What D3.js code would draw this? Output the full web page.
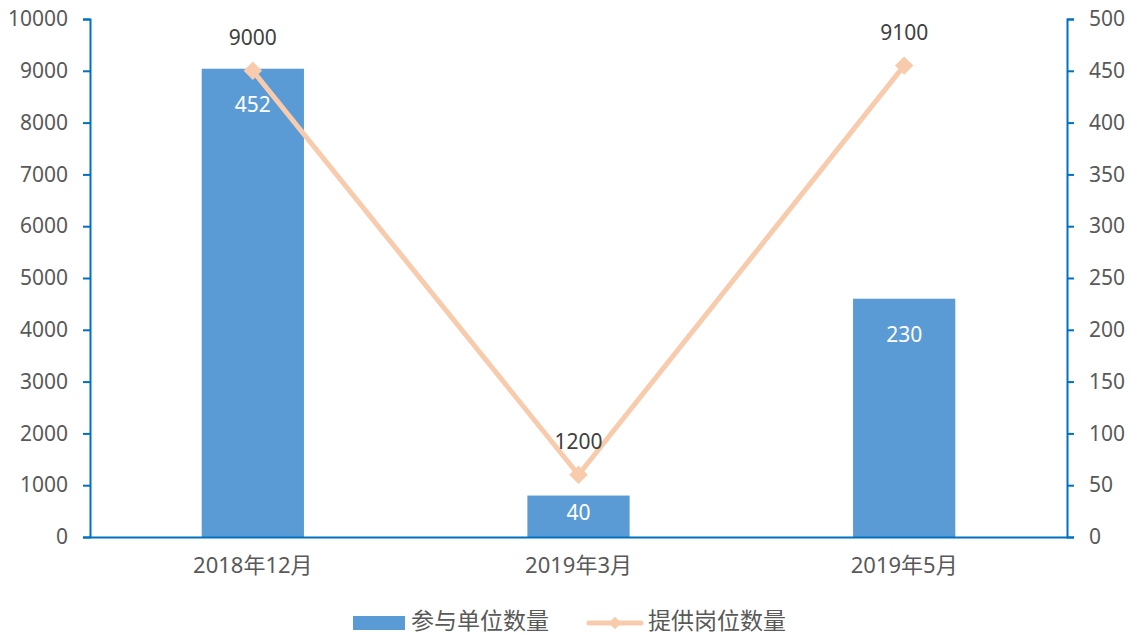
<!DOCTYPE html>
<html>
<head>
<meta charset="utf-8">
<script src="https://cdn.jsdelivr.net/npm/d3@7"></script>
<style>
  body { margin: 0; background: #fff; }
  svg { display: block; font-family: "Noto Sans", "Noto Sans CJK SC", sans-serif; }
</style>
</head>
<body>
<svg id="chart" width="1133" height="635"></svg>
<script>
const categories = ["2018年12月", "2019年3月", "2019年5月"];
const unitCounts = [452, 40, 230];        // 参与单位数量 (right axis)
const jobCounts = [9000, 1200, 9100];     // 提供岗位数量 (left axis)
const leftTicks = [0, 1000, 2000, 3000, 4000, 5000, 6000, 7000, 8000, 9000, 10000];
const rightTicks = [0, 50, 100, 150, 200, 250, 300, 350, 400, 450, 500];
const seriesNames = ["参与单位数量", "提供岗位数量"];

const svg = d3.select("#chart");
const plotLeft = 90, plotRight = 1067, plotTop = 19, plotBottom = 537;
const axisColor = "#0070C0", textColor = "#595959";
const barColor = "#5B9BD5", lineColor = "#F8CBAD";

const x = d3.scaleBand().domain(categories).range([plotLeft, plotRight]).paddingInner(0.686).paddingOuter(0.343);
const yL = d3.scaleLinear().domain([0, 10000]).range([plotBottom, plotTop]);
const yR = d3.scaleLinear().domain([0, 500]).range([plotBottom, plotTop]);

// Bars (right axis)
svg.append("g").selectAll("rect").data(unitCounts).join("rect")
  .attr("x", (d, i) => x(categories[i]))
  .attr("width", x.bandwidth())
  .attr("y", d => yR(d))
  .attr("height", d => plotBottom - yR(d))
  .attr("fill", barColor);

// Bar value labels, inside the top of each bar
svg.append("g").selectAll("text").data(unitCounts).join("text")
  .attr("x", (d, i) => x(categories[i]) + x.bandwidth() / 2)
  .attr("y", d => yR(d) + Math.min(36, (plotBottom - yR(d)) / 2 - 4))
  .attr("dy", "0.35em")
  .attr("text-anchor", "middle")
  .attr("font-size", 21)
  .attr("fill", "#fff")
  .text(d => d);

// Axes
function styleAxis(g) {
  g.attr("font-family", null);
  g.select(".domain").attr("stroke", axisColor).attr("stroke-width", 2);
  g.selectAll(".tick line").attr("stroke", axisColor).attr("stroke-width", 2);
  g.selectAll(".tick text").attr("fill", textColor).attr("font-size", 21);
}
svg.append("g").attr("transform", `translate(${plotLeft},0)`)
  .call(d3.axisLeft(yL).tickValues(leftTicks).tickSize(7).tickSizeOuter(7).tickPadding(15).tickFormat(d3.format("d")))
  .call(styleAxis);
svg.append("g").attr("transform", `translate(${plotRight},0)`)
  .call(d3.axisRight(yR).tickValues(rightTicks).tickSize(7).tickSizeOuter(7).tickPadding(15).tickFormat(d3.format("d")))
  .call(styleAxis);
svg.append("g").attr("transform", `translate(0,${plotBottom})`)
  .call(d3.axisBottom(x).tickSize(0).tickSizeOuter(0).tickPadding(20))
  .call(styleAxis)
  .call(g => g.selectAll(".tick text").attr("font-size", 22));

// Line (left axis)
const cx = c => x(c) + x.bandwidth() / 2;
svg.append("path")
  .datum(jobCounts)
  .attr("fill", "none")
  .attr("stroke", lineColor)
  .attr("stroke-width", 5)
  .attr("d", d3.line().x((d, i) => cx(categories[i])).y(d => yL(d)));

svg.append("g").selectAll("path").data(jobCounts).join("path")
  .attr("transform", (d, i) => `translate(${cx(categories[i])},${yL(d)}) rotate(45)`)
  .attr("d", d3.symbol(d3.symbolSquare, 170))
  .attr("fill", lineColor);

svg.append("g").selectAll("text").data(jobCounts).join("text")
  .attr("x", (d, i) => cx(categories[i]))
  .attr("y", d => yL(d) - 26)
  .attr("text-anchor", "middle")
  .attr("font-size", 21)
  .attr("fill", "#404040")
  .text(d => d);

// Legend
const lg = svg.append("g").attr("font-size", 23).attr("fill", textColor);
lg.append("rect").attr("x", 353).attr("y", 616).attr("width", 52).attr("height", 14).attr("fill", barColor);
lg.append("text").attr("x", 411).attr("y", 629).text(seriesNames[0]);
lg.append("line").attr("x1", 589).attr("x2", 641).attr("y1", 623).attr("y2", 623)
  .attr("stroke", lineColor).attr("stroke-width", 5).attr("stroke-linecap", "round");
lg.append("path").attr("transform", "translate(615,623) rotate(45)").attr("d", d3.symbol(d3.symbolSquare, 80)).attr("fill", lineColor);
lg.append("text").attr("x", 648).attr("y", 629).text(seriesNames[1]);
</script>
</body>
</html>
